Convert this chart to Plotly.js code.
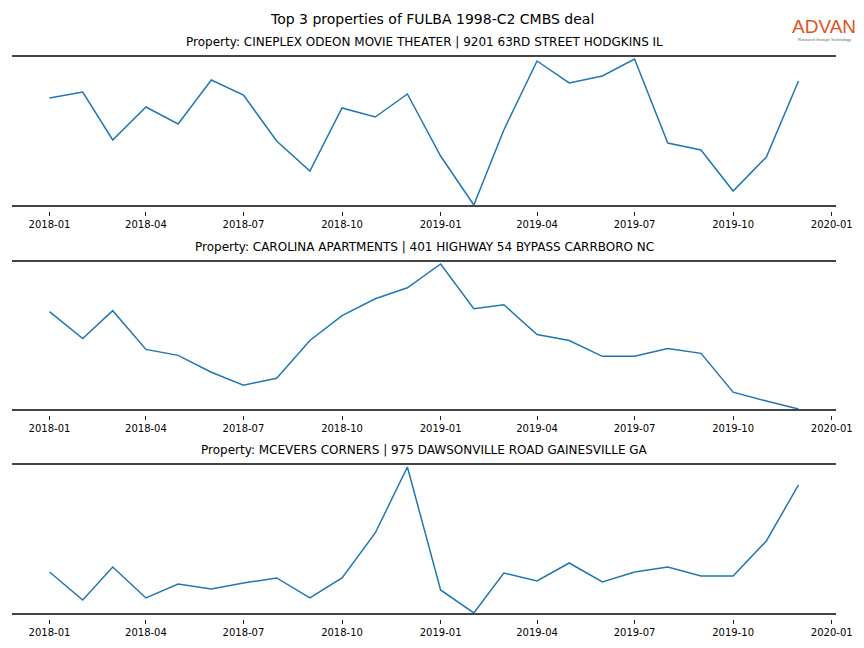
<!DOCTYPE html>
<html>
<head>
<meta charset="utf-8">
<script src="https://cdn.plot.ly/plotly-3.0.1.min.js"></script>
<style>html,body{margin:0;padding:0;background:#fff;}#chart{width:864px;height:648px;}</style>
</head>
<body>
<div id="chart"></div>
<script>
const months = ['2018-01-01','2018-02-01','2018-03-01','2018-04-01','2018-05-01','2018-06-01','2018-07-01','2018-08-01','2018-09-01','2018-10-01','2018-11-01','2018-12-01',
                '2019-01-01','2019-02-01','2019-03-01','2019-04-01','2019-05-01','2019-06-01','2019-07-01','2019-08-01','2019-09-01','2019-10-01','2019-11-01','2019-12-01'];
const cineplex = [108,114,66,99,82,126,111,65,35,98,89,112,50,1,76,145,123,130,147,63,56,15,49,125];
const carolina = [99,72,100,61,55,38,25,32,70,95,112,123,147,102,106,76,70,54,54,62,57,18,9,1];
const mcevers  = [42,14,47,16,30,25,31,36,16,36,81,147,24,1,41,33,51,32,42,47,38,38,73,129];
const tickVals = ['2018-01-01','2018-04-01','2018-07-01','2018-10-01','2019-01-01','2019-04-01','2019-07-01','2019-10-01','2020-01-01'];
const tickText = ['2018-01','2018-04','2018-07','2018-10','2019-01','2019-04','2019-07','2019-10','2020-01'];
const titles = ['Property: CINEPLEX ODEON MOVIE THEATER | 9201 63RD STREET HODGKINS IL',
                'Property: CAROLINA APARTMENTS | 401 HIGHWAY 54 BYPASS CARRBORO NC',
                'Property: MCEVERS CORNERS | 975 DAWSONVILLE ROAD GAINESVILLE GA'];
const mainTitle = 'Top 3 properties of FULBA 1998-C2 CMBS deal';

const series = [cineplex, carolina, mcevers];
const domains = [[0.6821,0.9136],[0.3673,0.5972],[0.0525,0.2840]];
const font = 'DejaVu Sans, sans-serif';
const H = 648;

const traces = series.map((v,i)=>({
  x: months, y: v, type:'scatter', mode:'lines',
  line:{color:'#1f77b4', width:1.5},
  xaxis: i===0?'x':'x'+(i+1), yaxis: i===0?'y':'y'+(i+1),
  hoverinfo:'skip', showlegend:false
}));

const layout = {
  width:864, height:648,
  margin:{l:0,r:0,t:0,b:0},
  paper_bgcolor:'#fff', plot_bgcolor:'#fff',
  font:{family:font, color:'#000'},
  annotations:[], shapes:[]
};
series.forEach((v,i)=>{
  const sfx = i===0?'':String(i+1);
  layout['xaxis'+sfx] = {
    domain:[12/864, 836/864], anchor:'free', position: domains[i][0] - 5/H, type:'date',
    range:['2017-11-27','2020-01-05'],
    tickmode:'array', tickvals:tickVals, ticktext:tickText,
    ticks:'outside', ticklen:4, tickwidth:1, tickcolor:'#222',
    tickfont:{family:font, size:10, color:'#000'},
    showline:false, showgrid:false, zeroline:false, fixedrange:true
  };
  layout['yaxis'+sfx] = {
    domain:domains[i], anchor:'x'+sfx, range:[0,150],
    showticklabels:false, ticks:'', showgrid:false, zeroline:false, showline:false, fixedrange:true
  };
  [0,1].forEach(yy=>{
    layout.shapes.push({type:'line', xref:'paper', yref:'y'+sfx+' domain',
      x0:12/864, x1:836/864, y0:yy, y1:yy, line:{color:'#444', width:2}});
  });
  layout.annotations.push({
    text:titles[i], xref:'paper', yref:'paper', x:424/864, y:domains[i][1], yshift:5,
    xanchor:'center', yanchor:'bottom', showarrow:false,
    font:{family:font, size:12, color:'#000'}
  });
});
layout.annotations.push({
  text:mainTitle, xref:'paper', yref:'paper', x:0.5, y:1-19/H,
  xanchor:'center', yanchor:'middle', showarrow:false,
  font:{family:font, size:14, color:'#000'}
});
layout.annotations.push({
  text:'ADVAN', xref:'paper', yref:'paper', x:824/864, y:1-27/H,
  xanchor:'center', yanchor:'middle', showarrow:false,
  font:{family:'Liberation Sans, Arial, sans-serif', size:19, color:'#e2521f'}
});
layout.annotations.push({
  text:'Research through Technology', xref:'paper', yref:'paper', x:824/864, y:1-39/H,
  xanchor:'center', yanchor:'middle', showarrow:false,
  font:{family:'Liberation Sans, Arial, sans-serif', size:4, color:'#666'}
});

Plotly.newPlot('chart', traces, layout, {displayModeBar:false, staticPlot:true});
</script>
</body>
</html>
